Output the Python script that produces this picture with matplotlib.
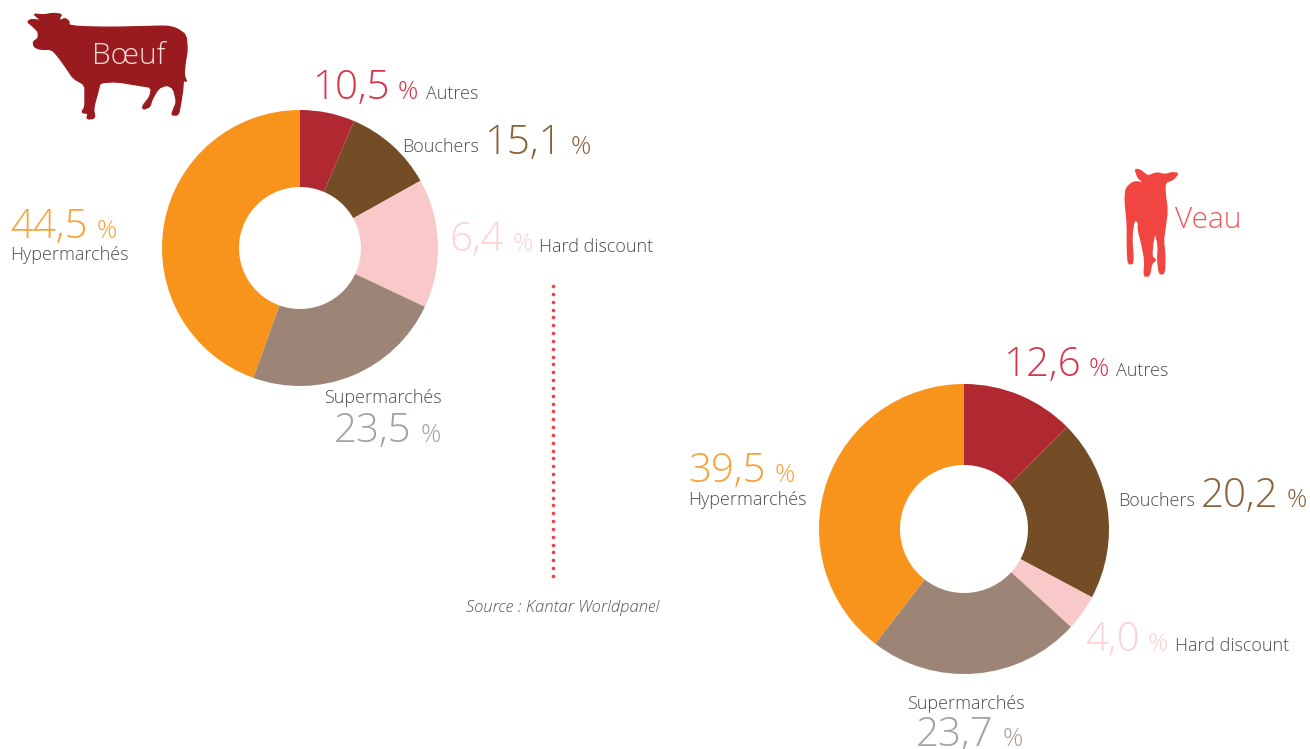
import numpy as np
import matplotlib.pyplot as plt

W, H = 1310, 749

segments = ["Autres", "Bouchers", "Hard discount", "Supermarchés", "Hypermarchés"]
seg_colors = ["#B02830", "#744C26", "#F9C9CA", "#9C8576", "#F8941C"]
text_colors = ["#D8344A", "#8A6239", "#FBD3D3", "#ABA099", "#F9A23A"]

# the beef slices are not drawn in the order of the printed figures
boeuf_wedges = [6.4, 10.5, 15.1, 23.5, 44.5]
boeuf_printed = ["10,5", "15,1", "6,4", "23,5", "44,5"]
veau_wedges = [12.6, 20.2, 4.0, 23.7, 39.5]
veau_printed = ["12,6", "20,2", "4,0", "23,7", "39,5"]

plt.rcParams['font.family'] = ['Open Sans', 'DejaVu Sans']
plt.rcParams['font.weight'] = 300

fig = plt.figure(figsize=(W/100, H/100), dpi=100)


def donut(cx, cy, r, hole, values):
    ax = fig.add_axes([(cx-r)/W, 1-(cy+r)/H, 2*r/W, 2*r/H])
    ax.pie(values, colors=seg_colors, startangle=90, counterclock=False, radius=1,
           wedgeprops=dict(width=1-hole/r, linewidth=0))
    ax.set_xlim(-1, 1)
    ax.set_ylim(-1, 1)
    ax.axis('off')


donut(300, 248, 138, 61, boeuf_wedges)
donut(964, 529, 145, 64, veau_wedges)

# overlay in pixel coordinates for text and drawings
ov = fig.add_axes([0, 0, 1, 1])
ov.set_xlim(0, W)
ov.set_ylim(H, 0)
ov.axis('off')
ov.patch.set_alpha(0)


def rounded(pts, n=1):
    # corner cutting so the traced outlines do not look faceted
    for _ in range(n):
        nxt = np.roll(pts, -1, axis=0)
        pts = np.column_stack([0.8*pts + 0.2*nxt, 0.2*pts + 0.8*nxt]).reshape(-1, 2)
    return pts


cow = np.array([(72,42),(100,45),(130,40),(155,43),(148,55),(150,62),(165,55),(178,65),(175,75),(205,80),
                (300,82),(400,80),(470,78),(500,85),(528,105),(532,150),(525,190),(522,225),(530,245),(520,240),
                (518,270),(512,310),(505,345),(485,345),(490,330),(500,305),(490,265),(470,255),(445,265),(425,300),
                (420,320),(400,328),(398,318),(420,290),(425,262),(380,255),(320,245),(270,248),(265,270),(250,325),
                (255,355),(230,357),(235,340),(215,338),(225,320),(225,290),(225,255),(190,235),(170,205),(145,170),
                (125,148),(90,148),(72,140),(70,125),(85,115),(85,95),(70,80),(52,65),(65,58),(95,62),(80,50)], float)
cow = rounded(cow)
ov.fill(cow[:, 0]/3+10, cow[:, 1]/3, color="#9A1B1F", lw=1, joinstyle='round')
calf = np.array([(75,28),(90,30),(105,42),(115,48),(140,38),(165,44),(185,38),(205,40),(190,58),(165,68),
                 (165,100),(172,150),(165,205),(160,240),(165,290),(163,340),(148,342),(143,300),(145,255),(135,215),
                 (128,250),(125,290),(138,300),(125,310),(118,348),(102,348),(105,300),(95,250),(85,210),(85,185),
                 (72,180),(65,230),(70,310),(55,312),(52,270),(52,190),(45,120),(48,85),(70,65),(105,68),(85,55)], float)
calf = rounded(calf)
ov.fill(calf[:, 0]/3+1110, calf[:, 1]/3+160, color="#F04540", lw=1, joinstyle='round')

ov.text(92, 56, "Bœuf", color="#F3DEDC", fontsize=21.5, va='center', ha='left')
ov.text(1175, 220, "Veau", color="#F0555A", fontsize=21.5, va='center', ha='left')

# dotted divider
ov.plot(np.full(38, 553), np.linspace(286, 576, 38), 'o', color="#F0404A", ms=2.6, mew=0)
ov.text(466, 608, "Source : Kantar Worldpanel", color="#555555", fontsize=12, style='italic',
        va='center', ha='left')

NUM, PCT, LAB = 29, 18, 13
GREY = "#4D4D4D"


def num(x, y, s, i):
    ov.text(x, y, s, color=text_colors[i], fontsize=NUM, va='baseline', ha='left')


def pct(x, y, i):
    ov.text(x, y, "%", color=text_colors[i], fontsize=PCT, va='baseline', ha='left')


def lab(x, y, i):
    ov.text(x, y, segments[i], color=GREY, fontsize=LAB, va='baseline', ha='left')


# boeuf
num(312, 99, boeuf_printed[0], 0); pct(398, 99, 0); lab(426, 99, 0)
lab(402, 152, 1); num(484, 154, boeuf_printed[1], 1); pct(571, 154, 1)
num(449, 251, boeuf_printed[2], 2); pct(513, 251, 2); lab(539, 252, 2)
lab(324, 403, 3); num(334, 442, boeuf_printed[3], 3); pct(421, 442, 3)
num(10, 238, boeuf_printed[4], 4); pct(97, 238, 4); lab(10, 260, 4)

# veau
num(1003, 376, veau_printed[0], 0); pct(1089, 376, 0); lab(1116, 376, 0)
lab(1118, 506, 1); num(1201, 507, veau_printed[1], 1); pct(1287, 507, 1)
num(1085, 651, veau_printed[2], 2); pct(1148, 651, 2); lab(1175, 651, 2)
lab(907, 709, 3); num(916, 746, veau_printed[3], 3); pct(1003, 746, 3)
num(688, 482, veau_printed[4], 4); pct(775, 482, 4); lab(688, 505, 4)

fig.savefig("out.png", dpi=100)
